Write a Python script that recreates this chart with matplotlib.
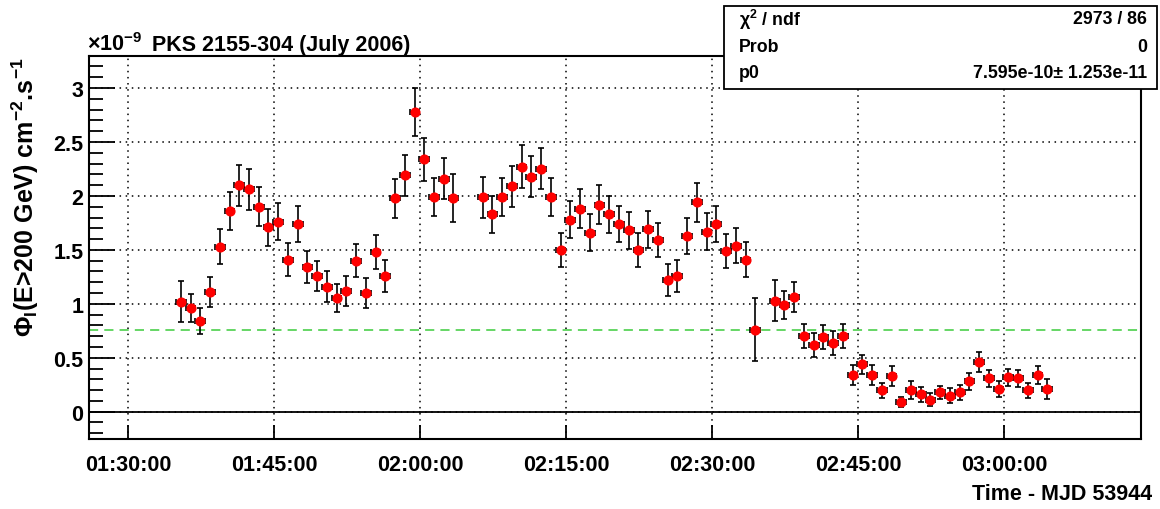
import matplotlib
matplotlib.use('Agg')
import matplotlib.pyplot as plt
from matplotlib.ticker import FixedLocator, MultipleLocator, FuncFormatter
from matplotlib.patches import Rectangle

plt.rcParams['font.family'] = ['Liberation Sans', 'DejaVu Sans']
plt.rcParams['font.weight'] = 'bold'
plt.rcParams['mathtext.fontset'] = 'custom'
plt.rcParams['mathtext.rm'] = 'Liberation Sans:bold'
plt.rcParams['mathtext.it'] = 'Liberation Sans:bold'
plt.rcParams['mathtext.bf'] = 'Liberation Sans:bold'
plt.rcParams['mathtext.default'] = 'rm'

# time in minutes after 00:00 (MJD 53944), flux in units of 1e-9 cm^-2 s^-1
time_min = [95.4, 96.4, 97.4, 98.4, 99.4, 100.4, 101.4, 102.4, 103.4, 104.4,
            105.4, 106.4, 107.4, 108.4, 109.4, 110.4, 111.4, 112.4, 113.4, 114.4,
            115.4, 116.4, 117.4, 118.4, 119.4, 120.4, 121.4, 122.4, 123.4,
            126.4, 127.4, 128.4, 129.4, 130.4, 131.4, 132.4, 133.4, 134.4, 135.4,
            136.4, 137.4, 138.4, 139.4, 140.4, 141.4, 142.4, 143.4, 144.4, 145.4,
            146.4, 147.4, 148.4, 149.4, 150.4, 151.4, 152.4, 153.4, 154.4,
            156.4, 157.4, 158.4, 159.4, 160.4, 161.4, 162.4, 163.4, 164.4, 165.4,
            166.4, 167.4, 168.4, 169.4, 170.4, 171.4, 172.4, 173.4, 174.4, 175.4,
            176.4, 177.4, 178.4, 179.4, 180.4, 181.4, 182.4, 183.4, 184.4]
flux = [1.02, 0.96, 0.84, 1.11, 1.53, 1.86, 2.10, 2.06, 1.90, 1.71,
        1.76, 1.41, 1.74, 1.34, 1.26, 1.16, 1.05, 1.12, 1.40, 1.10,
        1.48, 1.26, 1.98, 2.19, 2.78, 2.34, 1.99, 2.16, 1.98,
        1.99, 1.83, 1.99, 2.09, 2.27, 2.18, 2.25, 1.99, 1.50, 1.78,
        1.88, 1.66, 1.92, 1.83, 1.74, 1.68, 1.50, 1.69, 1.59, 1.22,
        1.26, 1.63, 1.94, 1.67, 1.74, 1.49, 1.54, 1.41, 0.76,
        1.03, 0.99, 1.06, 0.70, 0.62, 0.69, 0.64, 0.70, 0.34, 0.44,
        0.34, 0.20, 0.33, 0.09, 0.20, 0.16, 0.11, 0.18, 0.15, 0.18,
        0.28, 0.46, 0.31, 0.21, 0.32, 0.31, 0.20, 0.34, 0.21]
flux_err = [0.19, 0.13, 0.12, 0.14, 0.16, 0.18, 0.19, 0.19, 0.18, 0.17,
            0.17, 0.15, 0.17, 0.15, 0.14, 0.14, 0.13, 0.14, 0.15, 0.14,
            0.16, 0.15, 0.18, 0.19, 0.22, 0.20, 0.18, 0.19, 0.22,
            0.19, 0.17, 0.18, 0.19, 0.20, 0.19, 0.19, 0.18, 0.16, 0.17,
            0.18, 0.17, 0.18, 0.17, 0.17, 0.17, 0.16, 0.17, 0.16, 0.15,
            0.15, 0.17, 0.18, 0.17, 0.17, 0.16, 0.16, 0.16, 0.29,
            0.19, 0.13, 0.14, 0.11, 0.11, 0.11, 0.11, 0.11, 0.09, 0.09,
            0.09, 0.07, 0.09, 0.05, 0.08, 0.07, 0.06, 0.06, 0.07, 0.07,
            0.08, 0.09, 0.08, 0.07, 0.08, 0.08, 0.07, 0.08, 0.09]
time_err = 0.5
fit_p0 = 0.7595
time_ticks = [90, 105, 120, 135, 150, 165, 180]

fig = plt.figure(figsize=(11.6, 5.1), dpi=100)
ax = fig.add_axes([0.0767, 0.1373, 0.9067, 0.7515])

ax.axhline(0, color='black', lw=1.3, zorder=2)
ax.axhline(fit_p0, color='#3ccc3c', lw=1.1, ls=(0, (6, 4)), zorder=2)
ax.errorbar(time_min, flux, yerr=flux_err, xerr=time_err, fmt='o', color='red',
            ms=6.3, mec='red', ecolor='black', elinewidth=1.2, capsize=2.5,
            capthick=1.2, zorder=3)

ax.set_xlim(85.96, 194.0)
ax.set_ylim(-0.253, 3.30)
ax.xaxis.set_major_locator(FixedLocator(time_ticks))
ax.xaxis.set_major_formatter(FuncFormatter(lambda v, p: '%02d:%02d:00' % (v // 60, v % 60)))
ax.yaxis.set_major_locator(MultipleLocator(0.5))
ax.yaxis.set_minor_locator(MultipleLocator(0.1))
ax.yaxis.set_major_formatter(FuncFormatter(lambda v, p: '%g' % round(v, 2)))
ax.grid(True, which='major', color='black', ls=(0, (1, 3)), lw=1.1)
ax.tick_params(axis='y', which='major', direction='in', length=19, width=1.3,
               labelsize=15.5, pad=4, right=False)
ax.tick_params(axis='y', which='minor', direction='in', length=10, width=1.3, right=False)
ax.tick_params(axis='x', which='major', direction='in', length=10, width=1.3,
               labelsize=15.5, pad=11, top=False)
for lab in ax.get_xticklabels() + ax.get_yticklabels():
    lab.set_fontweight('bold')
for s in ax.spines.values():
    s.set_linewidth(1.5)

fig.text(0.993, 0.030, 'Time - MJD 53944', ha='right', va='center', fontsize=15.5, fontweight='bold')
fig.text(0.022, 1 - 58 / 510, r'Φ$_{I}$(E>200 GeV) cm$^{-2}$.s$^{-1}$', rotation=90,
         ha='center', va='top', fontsize=18, fontweight='bold')
fig.text(0.075, 1 - 45 / 510, r'×10$^{-9}$', ha='left', va='center', fontsize=15.5)
fig.text(0.131, 1 - 46 / 510, 'PKS 2155-304 (July 2006)', ha='left', va='center',
         fontsize=15.5, fontweight='bold')

# fit statistics box
fig.patches.append(Rectangle((0.624, 0.8245), 0.3734, 0.1625, transform=fig.transFigure,
                             facecolor='white', edgecolor='black', lw=1.3, zorder=5))
rows = [(r'χ$^{2}$ / ndf', '2973 / 86'), ('Prob', '0'), ('p0', '7.595e-10± 1.253e-11')]
for i, (name, val) in enumerate(rows):
    yy = 1 - (20 + 27 * i) / 510
    fig.text(0.637, yy, name, ha='left', va='center', fontsize=12.8, fontweight='bold', zorder=6)
    fig.text(0.989, yy, val, ha='right', va='center', fontsize=12.8, fontweight='bold', zorder=6)

fig.savefig('out.png', dpi=100)
